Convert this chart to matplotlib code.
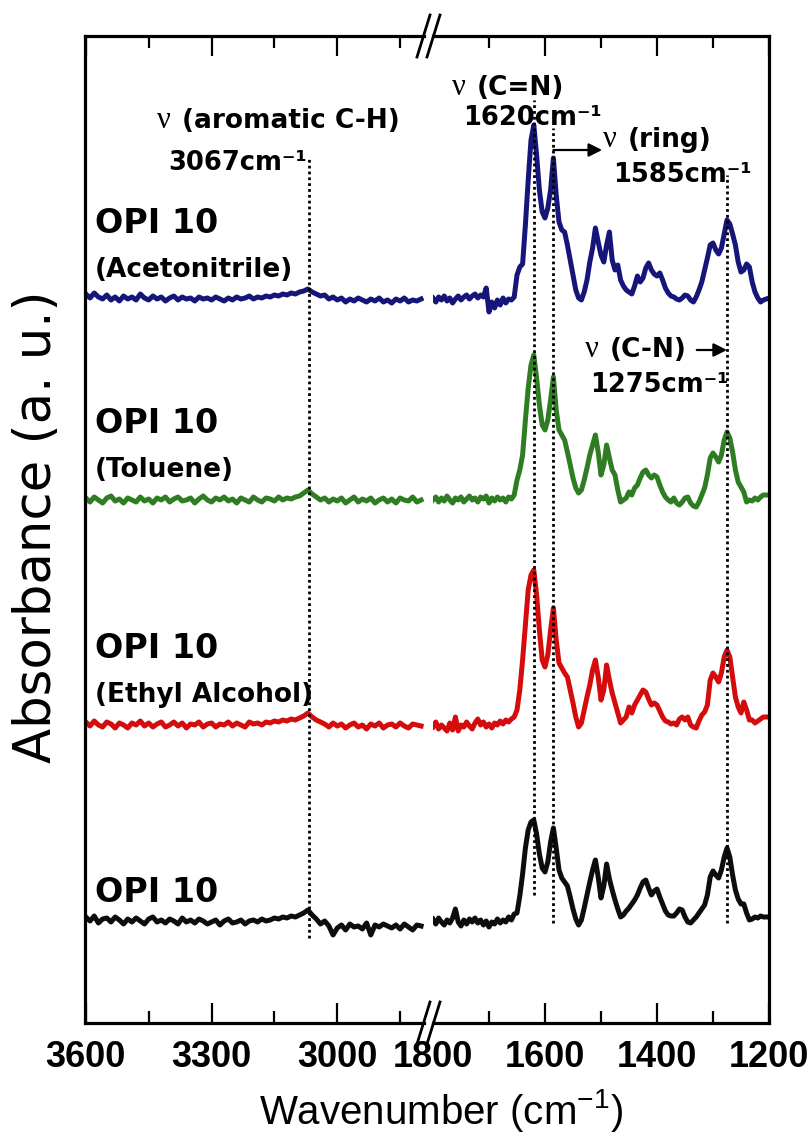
import numpy as np
import matplotlib
matplotlib.use("Agg")
import matplotlib.pyplot as plt
from matplotlib.lines import Line2D
from matplotlib.transforms import offset_copy

plt.rcParams["mathtext.fontset"] = "custom"
plt.rcParams["mathtext.rm"] = "Liberation Sans"

# ---------------------------------------------------------------- data
# Wavenumber grids (cm-1) of the two segments of the broken axis
WN_HIGH = np.arange(3600, 2799, -10)      # 3600 ... 2800
WN_FINGER = np.arange(1800, 1204, -5)     # 1800 ... 1205

SAMPLES = ["OPI 10\n(Acetonitrile)", "OPI 10\n(Toluene)",
           "OPI 10\n(Ethyl Alcohol)", "OPI 10"]
COLORS = ["#16167a", "#2f7d22", "#d50c0c", "#0d0d0d"]
STACK_OFFSETS = [7.23, 5.23, 2.98, 1.01]   # a.u., vertical stacking

# absorbance above each trace's own baseline, in 0.01 a.u.
ACN_HIGH = [6, 2, 7, 3, 1, 5, 0, 3, -1, 4,
            1, 3, 0, 6, 2, 0, 4, 1, 3, -1,
            2, 4, 0, 3, 1, 2, -1, 3, 1, 2,
            0, 3, 1, -1, 2, 0, 3, 1, 2, 4,
            1, 3, 2, 4, 3, 5, 4, 6, 5, 7,
            6, 8, 9, 11, 8, 6, 4, 5, 1, 3,
            0, 2, -2, 1, -1, 2, 0, -2, 1, -1,
            2, -2, 0, -3, 1, -1, 2, -2, 0, -1,
            1]
TOL_HIGH = [2, -2, 3, 0, -3, 2, 4, -1, 1, -3,
            2, 0, -2, 3, -1, 1, -3, 2, 0, 3,
            -2, 1, 3, -1, 0, 2, -3, 1, 4, 0,
            -2, 2, 0, 3, -1, 1, -3, 2, 0, -2,
            3, 0, -2, 2, 1, -1, 3, 0, 2, 1,
            3, 4, 7, 10, 6, 3, 0, 2, -2, 1,
            -1, 2, -3, 0, 3, -2, 1, -1, 2, -3,
            0, 2, -2, 1, -3, 2, 0, -1, 3, -2,
            0]
ETOH_HIGH = [3, -1, 4, 0, -2, 3, 1, -3, 2, 0,
             -3, 2, 0, 4, -1, 2, -2, 1, 3, -2,
             0, 3, -1, 2, -3, 1, 0, 3, -2, 1,
             2, -2, 1, 0, 3, -1, 2, 0, -2, 3,
             1, 2, 0, 3, 2, 4, 3, 5, 4, 6,
             5, 7, 9, 12, 8, 5, 3, 1, -2, 2,
             -1, 1, -3, 0, 2, -2, 0, -4, 1, -1,
             2, -3, 0, 1, -2, 2, -1, -3, 1, 0,
             -1]
NEAT_HIGH = [5, 1, 6, -1, 3, 4, 0, 5, 2, -2,
             3, 0, 4, 1, -2, 3, 5, 0, 2, -1,
             3, 1, -2, 4, 0, 2, -1, 3, 1, -2,
             0, 2, -3, 1, 3, -1, 0, 2, -2, 1,
             2, 0, 3, 1, 2, 4, 3, 5, 4, 6,
             5, 7, 9, 12, 7, 3, -2, 1, -4, -13,
             -6, -3, -8, -2, -5, -4, -7, -1, -13, -3,
             -5, -2, -4, -6, -3, -7, -2, -5, -8, -3,
             -4]

ACN_FINGER = [2, -2, 3, 0, 4, -1, 2, -3, 1, 4,
              0, 3, 5, 1, 4, 6, 2, 5, 3, 12,
              -12, -2, -8, 0, -5, 2, -3, 1, 0, 3,
              25, 33, 36, 75, 120, 160, 175, 145, 110, 88,
              82, 92, 110, 142, 105, 78, 70, 68, 55, 40,
              25, 10, 2, 0, 8, 20, 38, 52, 72, 58,
              45, 38, 55, 68, 40, 30, 35, 20, 14, 10,
              8, 6, 14, 24, 18, 22, 32, 37, 30, 26,
              24, 27, 20, 12, 7, 4, 3, 1, 0, 2,
              5, 4, 0, -2, 3, 10, 18, 30, 42, 55,
              57, 50, 46, 52, 66, 80, 76, 66, 55, 38,
              28, 30, 36, 33, 18, 8, 2, -2, 0, 1]
TOL_FINGER = [0, 3, -2, 2, -1, 4, 0, -3, 2, 0,
              3, -2, 1, 4, 0, 2, -2, 3, 1, 4,
              -3, 2, -1, 3, 0, 2, -2, 3, 1, 5,
              20, 30, 45, 80, 112, 135, 145, 122, 95, 75,
              70, 80, 100, 123, 90, 70, 65, 60, 48, 35,
              22, 12, 7, 10, 20, 32, 45, 55, 65, 48,
              25, 35, 55, 42, 30, 25, 10, -2, 0, 2,
              8, 5, 12, 15, 22, 28, 30, 25, 22, 25,
              23, 15, 8, 3, 0, -2, 2, -3, -5, -2,
              2, 3, -3, -6, -7, -2, 5, 12, 25, 42,
              47, 43, 38, 45, 60, 68, 62, 48, 30, 18,
              13, 8, -2, 0, -1, 2, 0, 3, 5, 5]
ETOH_FINGER = [-2, 3, -4, 0, -3, -6, 2, -5, 8, -6,
               0, -2, 3, -1, -4, 2, 6, 0, 3, -2,
               1, -3, 2, 0, 4, 1, 5, 3, 6, 8,
               15, 35, 65, 100, 135, 150, 155, 130, 95, 65,
               58, 70, 95, 117, 85, 62, 57, 52, 48, 35,
               22, 8, -2, 2, 15, 28, 40, 55, 65, 48,
               25, 35, 60, 45, 32, 22, 12, 2, 5, 8,
               18, 12, 20, 25, 30, 35, 33, 26, 20, 22,
               20, 14, 8, 4, 3, 1, 2, 0, 6, 8,
               5, 8, 0, -2, -3, 4, 10, 13, 20, 45,
               52, 48, 43, 52, 68, 75, 68, 48, 28, 18,
               12, 23, 15, 5, 5, 2, 4, 6, 8, 8]
NEAT_FINGER = [3, -2, 4, 0, -3, 2, -1, 4, 13, 0,
               -4, 2, -2, 3, 0, 4, -1, 2, -3, 1,
               -5, 0, -2, 3, -1, 2, 0, 5, 2, 8,
               9, 26, 48, 74, 92, 100, 102, 88, 68, 54,
               50, 60, 80, 94, 74, 52, 44, 40, 36, 25,
               13, 3, -3, 2, 14, 27, 40, 52, 62, 45,
               24, 36, 58, 43, 32, 22, 13, 5, 7, 11,
               14, 18, 22, 27, 34, 40, 42, 34, 27, 31,
               33, 25, 18, 11, 7, 6, 6, 9, 13, 12,
               5, 0, -1, 2, 5, 9, 13, 17, 27, 45,
               51, 47, 44, 52, 65, 74, 65, 47, 32, 23,
               18, 18, 9, 2, 3, 5, 4, 6, 5, 5]

HIGH = [ACN_HIGH, TOL_HIGH, ETOH_HIGH, NEAT_HIGH]
FINGER = [ACN_FINGER, TOL_FINGER, ETOH_FINGER, NEAT_FINGER]

# band assignments (cm-1)
BAND_CH = 3067
BAND_CN_DOUBLE = 1620
BAND_RING = 1585
BAND_CN = 1275

# ---------------------------------------------------------------- figure
W, H = 809, 1133
fig = plt.figure(figsize=(W / 100, H / 100), dpi=100)
fig.patch.set_facecolor("white")


def frac(x0, y0, x1, y1):
    return [x0 / W, 1 - y1 / H, (x1 - x0) / W, (y1 - y0) / H]


ax_l = fig.add_axes(frac(85, 36, 424, 1023))
ax_r = fig.add_axes(frac(433, 36, 769, 1023))

ax_l.set_xlim(3602, 2793)
ax_r.set_xlim(1800, 1200)
for ax in (ax_l, ax_r):
    ax.set_ylim(0, 9.87)
    ax.set_yticks([])
    for s in ax.spines.values():
        s.set_linewidth(2.3)
    ax.tick_params(axis="x", which="both", direction="in", top=True,
                   bottom=True, width=1.6, pad=12)
    ax.tick_params(axis="x", which="major", length=14.5)
    ax.tick_params(axis="x", which="minor", length=8.5)
ax_l.spines["right"].set_visible(False)
ax_r.spines["left"].set_visible(False)

ax_l.set_xticks([3600, 3300, 3000])
ax_l.set_xticks([3450, 3150, 2850], minor=True)
ax_r.set_xticks([1800, 1600, 1400, 1200])
ax_r.set_xticks([1700, 1500, 1300], minor=True)
first = ax_r.xaxis.get_major_ticks()[0]
first.tick1line.set_visible(False)
first.tick2line.set_visible(False)

tick_font = matplotlib.font_manager.FontProperties(
    family=["Liberation Sans Narrow", "Liberation Sans"], weight="bold",
    size=26)
for ax in (ax_l, ax_r):
    for lab in ax.get_xticklabels():
        lab.set_fontproperties(tick_font)

# spectra
for k in range(4):
    off = STACK_OFFSETS[k]
    ax_l.plot(WN_HIGH, off + 0.01 * np.asarray(HIGH[k]), color=COLORS[k],
              lw=3.6, solid_joinstyle="round")
    ax_r.plot(WN_FINGER, off + 0.01 * np.asarray(FINGER[k]), color=COLORS[k],
              lw=3.6, solid_joinstyle="round")

# band guide lines
dot = dict(color="black", lw=2.0, linestyle=(0, (1, 1.1)))
ax_l.plot([BAND_CH, BAND_CH], [0.85, 8.65], **dot)
ax_r.plot([BAND_CN_DOUBLE, BAND_CN_DOUBLE], [1.28, 9.23], **dot)
ax_r.plot([BAND_RING, BAND_RING], [1.00, 8.95], **dot)
ax_r.plot([BAND_CN, BAND_CN], [1.00, 8.48], **dot)

# sample names
name_kw = dict(family="DejaVu Sans", weight="bold", va="baseline", ha="left")
name_y = [(7.90, 7.46), (5.90, 5.46), (3.65, 3.21), (1.21, None)]
for (y_main, y_sub), label in zip(name_y, SAMPLES):
    parts = label.split("\n")
    ax_l.text(3578, y_main, parts[0], fontsize=24, **name_kw)
    if y_sub is not None:
        ax_l.text(3578, y_sub, parts[1], fontsize=19, **name_kw)


def nu_label(ax, x, y, rest, size=19, shift_px=25):
    ax.text(x, y, "ν", fontsize=size + 3, family="Liberation Serif",
            va="baseline", ha="left")
    tr = offset_copy(ax.transData, fig=fig, x=shift_px * 0.72, y=0,
                     units="points")
    ax.text(x, y, rest, transform=tr, fontsize=size, family="DejaVu Sans",
            weight="bold", va="baseline", ha="left")


ann = dict(fontsize=18.5, family="DejaVu Sans", weight="bold",
           va="baseline", ha="left")

nu_label(ax_l, 3430, 8.95, "(aromatic C-H)")
ax_l.text(3404, 8.53, f"{BAND_CH}cm⁻¹", **ann)

nu_label(ax_r, 1766, 9.28, "(C=N)")
ax_r.text(1746, 8.98, f"{BAND_CN_DOUBLE}cm⁻¹", **ann)

nu_label(ax_r, 1496, 8.76, "(ring)")
ax_r.text(1479, 8.41, f"{BAND_RING}cm⁻¹", **ann)
ax_r.annotate("", xy=(1498, 8.73), xytext=(BAND_RING, 8.73),
              arrowprops=dict(arrowstyle="-|>", color="black", lw=1.6,
                              mutation_scale=20, shrinkA=0, shrinkB=0))

nu_label(ax_r, 1529, 6.66, "(C-N)")
ax_r.text(1520, 6.31, f"{BAND_CN}cm⁻¹", **ann)
ax_r.annotate("", xy=(BAND_CN, 6.73), xytext=(1329, 6.73),
              arrowprops=dict(arrowstyle="-|>", color="black", lw=1.6,
                              mutation_scale=20, shrinkA=0, shrinkB=0))

# axis titles
fig.text(441 / W, 1 - 1110 / H, "Wavenumber (cm$^{-1}$)", ha="center",
         va="center", fontsize=29, family="Liberation Sans")
fig.text(37 / W, 1 - 527 / H, "Absorbance (a. u.)", ha="center",
         va="center", rotation=90, fontsize=37, family="DejaVu Sans")

# axis-break marks
for yb in (36, 1023):
    for xb in (417, 427):
        fig.add_artist(Line2D([xb / W, (xb + 13) / W],
                              [1 - (yb + 21) / H, 1 - (yb - 21) / H],
                              transform=fig.transFigure, color="black",
                              lw=2.0))

fig.savefig("out.png", dpi=100, facecolor="white")
